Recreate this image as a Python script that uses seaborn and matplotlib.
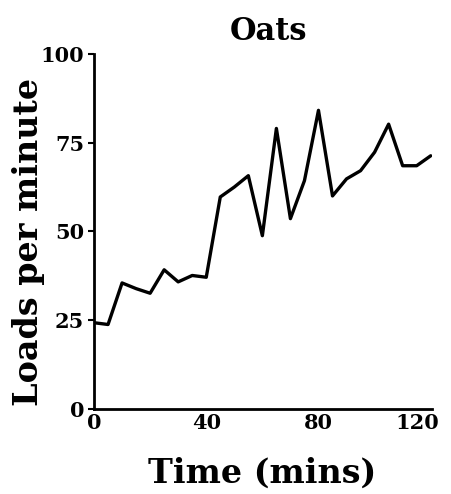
import matplotlib
matplotlib.use("Agg")
import matplotlib.pyplot as plt
import matplotlib.transforms as mtransforms
import seaborn as sns
import pandas as pd

time_mins = [0, 5, 10, 15, 20, 25, 30, 35, 40, 45, 50, 55, 60, 65, 70, 75, 80,
             85, 90, 95, 100, 105, 110, 115, 120]
loads = [24.3, 23.8, 35.5, 33.9, 32.6, 39.2, 35.8, 37.6, 37.1, 59.7, 62.5, 65.7,
         48.8, 79.0, 53.6, 64.3, 84.1, 60.0, 64.8, 67.1, 72.3, 80.2, 68.5, 68.5, 71.3]
x_ticks = [0, 40, 80, 120]
y_ticks = [0, 25, 50, 75, 100]

df = pd.DataFrame({"Time": time_mins, "Loads": loads})

sns.set_style("ticks")
plt.rcParams["font.family"] = ["DejaVu Serif"]
plt.rcParams["font.weight"] = "bold"
plt.rcParams["text.color"] = "black"
plt.rcParams["axes.labelcolor"] = "black"
plt.rcParams["xtick.color"] = "black"
plt.rcParams["ytick.color"] = "black"

fig = plt.figure(figsize=(4.52, 4.94), dpi=100)
ax = fig.add_axes([0.208, 0.172, 0.748, 0.719])
sns.lineplot(data=df, x="Time", y="Loads", color="black", linewidth=2.4, ax=ax)

ax.set_xlim(0, 120.5)
ax.set_ylim(0, 100)
ax.set_xticks(x_ticks)
ax.set_yticks(y_ticks)
ax.set_xticklabels([str(v) for v in x_ticks], fontsize=15, fontweight="bold")
ax.set_yticklabels([str(v) for v in y_ticks], fontsize=15, fontweight="bold")
ax.tick_params(axis="x", length=0, pad=3)
ax.tick_params(axis="y", length=4, width=1.5, direction="out", pad=3)
# the last x label sits a little to the left of its position in the original
lbl = ax.get_xticklabels()[-1]
lbl.set_transform(lbl.get_transform() + mtransforms.ScaledTranslation(-0.13, 0, fig.dpi_scale_trans))

sns.despine(ax=ax)
for s in ["left", "bottom"]:
    ax.spines[s].set_linewidth(2)
    ax.spines[s].set_color("black")

ax.set_xlabel("Time (mins)", fontsize=24, fontweight="bold")
ax.set_ylabel("Loads per minute", fontsize=24, fontweight="bold")
ax.xaxis.set_label_coords(0.497, -0.135)
ax.yaxis.set_label_coords(-0.145, 0.47)
ax.set_title("Oats", fontsize=22, fontweight="bold", pad=10, x=0.515)

fig.savefig("out.png", dpi=100)
